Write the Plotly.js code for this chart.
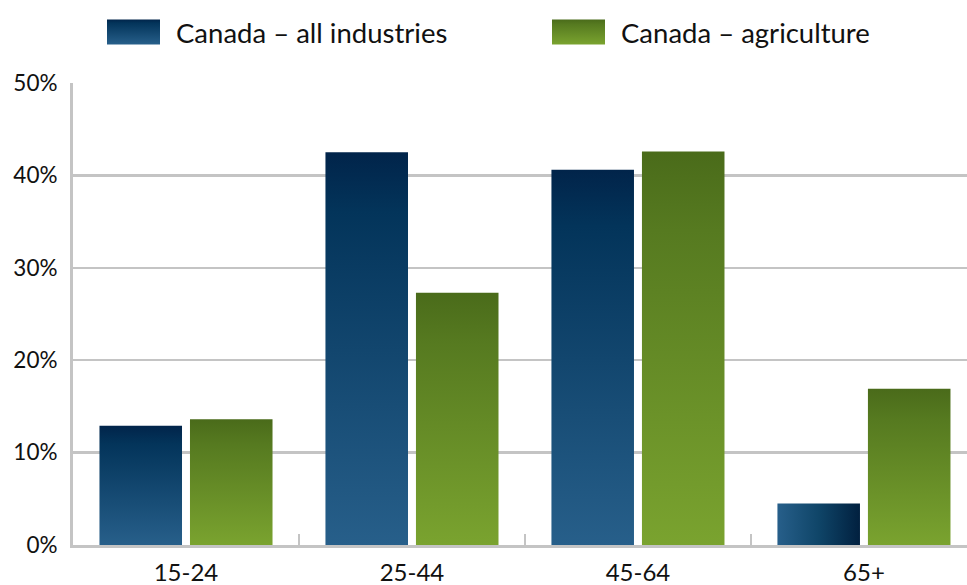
<!DOCTYPE html>
<html>
<head>
<meta charset="utf-8">
<script src="https://cdn.plot.ly/plotly-3.0.1.min.js"></script>
<style>
  html, body { margin: 0; padding: 0; background: #ffffff; overflow: hidden; }
  #chart { width: 967px; height: 585px; }
</style>
</head>
<body>
<div id="chart"></div>
<script>
// ---- data ----
const categories = ["15-24", "25-44", "45-64", "65+"];
const allIndustries = [12.9, 42.5, 40.6, 4.5];
const agriculture = [13.6, 27.3, 42.6, 16.9];
const seriesNames = ["Canada \u2013 all industries", "Canada \u2013 agriculture"];
const yTickVals = [0, 10, 20, 30, 40, 50];
const yTickText = ["0%", "10%", "20%", "30%", "40%", "50%"];

const FONT = "Lato, 'Liberation Sans', sans-serif";

const traces = [
  {
    type: "bar", name: seriesNames[0], x: categories, y: allIndustries, legend: "legend",
    marker: { color: "#1a4c76", line: { width: 0 } }, hoverinfo: "x+y"
  },
  {
    type: "bar", name: seriesNames[1], x: categories, y: agriculture, legend: "legend2",
    marker: { color: "#638a28", line: { width: 0 } }, hoverinfo: "x+y"
  }
];

function legendAt(px) {
  return {
    orientation: "h", xref: "container", yref: "container",
    x: px / 967, xanchor: "left", y: 1 - 32 / 585, yanchor: "middle",
    font: { family: FONT, size: 27.5, color: "#111111" },
    itemwidth: 75,
    bgcolor: "rgba(0,0,0,0)", borderwidth: 0
  };
}

const layout = {
  width: 967, height: 585,
  margin: { l: 73, r: 0, t: 83, b: 40, pad: 0 },
  paper_bgcolor: "#ffffff", plot_bgcolor: "#ffffff",
  font: { family: FONT, color: "#111111" },
  barmode: "group", bargap: 0.199, bargroupgap: 0.088,
  showlegend: true,
  legend: legendAt(91),
  legend2: legendAt(536),
  xaxis: {
    type: "category", range: [-0.5, 3.456], fixedrange: true,
    showline: true, linecolor: "#c4c4c4", linewidth: 3,
    showgrid: false, zeroline: false,
    ticks: "inside", tickson: "boundaries", ticklen: 11, tickwidth: 2, tickcolor: "#c4c4c4",
    tickfont: { family: FONT, size: 24, color: "#111111" },
    ticklabelstandoff: 4
  },
  yaxis: {
    range: [0, 50], fixedrange: true,
    tickvals: yTickVals, ticktext: yTickText,
    showline: true, linecolor: "#c4c4c4", linewidth: 3,
    showgrid: true, gridcolor: "#c4c4c4", gridwidth: 2.5,
    zeroline: false, ticks: "",
    tickfont: { family: FONT, size: 22.5, color: "#111111" },
    ticklabelstandoff: 8
  }
};

function addGradients() {
  const svg = document.querySelector("#chart .main-svg");
  if (!svg) return;
  const NS = "http://www.w3.org/2000/svg";
  let defs = svg.querySelector("defs");
  if (!defs) { defs = document.createElementNS(NS, "defs"); svg.insertBefore(defs, svg.firstChild); }
  function grad(id, stops, horizontal) {
    const g = document.createElementNS(NS, "linearGradient");
    g.setAttribute("id", id);
    g.setAttribute("x1", "0"); g.setAttribute("y1", "0");
    g.setAttribute("x2", horizontal ? "1" : "0"); g.setAttribute("y2", horizontal ? "0" : "1");
    stops.forEach(s => {
      const st = document.createElementNS(NS, "stop");
      st.setAttribute("offset", s[0]); st.setAttribute("stop-color", s[1]);
      g.appendChild(st);
    });
    defs.appendChild(g);
  }
  grad("gBlue", [[0, "#01244a"], [0.15, "#03345a"], [1, "#275f8a"]], false);
  grad("gBlueH", [[0, "#275f8a"], [0.5, "#0f4568"], [1, "#01203f"]], true);
  grad("gGreen", [[0, "#4a6b1a"], [0.2, "#567a20"], [1, "#7aa32f"]], false);

  const traceGroups = svg.querySelectorAll(".barlayer .trace");
  traceGroups.forEach((tg, ti) => {
    const paths = tg.querySelectorAll(".point path");
    paths.forEach((p, pi) => {
      let id = ti === 0 ? "gBlue" : "gGreen";
      if (ti === 0 && pi === 3) id = "gBlueH";
      p.style.fill = "url(#" + id + ")";
    });
  });

  const legendTraces = document.querySelectorAll("#chart .traces");
  legendTraces.forEach((lt) => {
    const p = lt.querySelector(".legendpoints path");
    const txt = lt.querySelector("text.legendtext");
    if (p) {
      const isBlue = txt && txt.textContent.indexOf("all industries") >= 0;
      p.setAttribute("d", "M-26.5,-12.5H26.5V12.5H-26.5Z");
      p.style.fill = "url(#" + (isBlue ? "gBlue" : "gGreen") + ")";
      p.style.stroke = "none";
    }
  });
}

Plotly.newPlot("chart", traces, layout, { staticPlot: true, displayModeBar: false }).then(addGradients);
</script>
</body>
</html>
